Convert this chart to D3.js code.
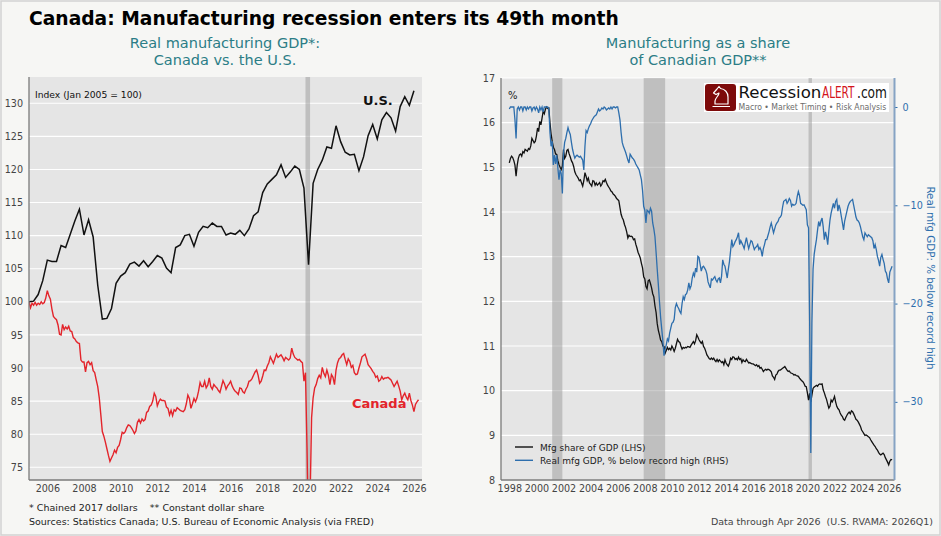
<!DOCTYPE html>
<html lang="en">
<head>
<meta charset="UTF-8">
<title>Canada: Manufacturing recession enters its 49th month</title>
<script src="https://d3js.org/d3.v7.min.js"></script>
<style>
  body { margin: 0; background: #f6f6f4; font-family: "DejaVu Sans", sans-serif; }
  svg { display: block; }
  .tick text { font-family: "DejaVu Sans", sans-serif; }
</style>
</head>
<body>
<div id="chart"></div>
<script>
// ---- Left panel: real manufacturing GDP index (Jan 2005 = 100) ----
// U.S. quarterly, 2005Q1 .. 2026Q1
const usIndex = [
  100.0, 100.1, 101.1, 103.2,  106.3, 106.1, 106.1, 108.5,  108.2, 110.2, 112.2, 114.0,
  110.1, 112.4, 109.8, 102.5,  97.4, 97.5, 99.0, 102.8,  103.9, 104.4, 105.7, 106.0,
  105.4, 106.2, 105.3, 106.1,  107.0, 106.6, 105.1, 104.4,  108.2, 108.6, 110.0, 110.2,
  108.4, 110.5, 111.4, 111.2,  111.9, 111.4, 111.4, 110.1,  110.4, 110.2, 110.8, 110.0,
  111.0, 113.0, 113.6, 116.5,  117.8, 118.5, 119.2, 120.7,  118.8, 119.6, 120.5, 120.0,
  117.2, 105.6, 117.9, 120.0,  121.4, 123.4, 123.2, 126.6,  124.2, 122.6, 122.2, 122.3,
  119.8, 121.9, 125.1, 126.8,  124.6, 127.5, 128.6, 127.8,  125.8, 129.5, 131.0, 129.7,
  131.9
];
// Canada monthly, Jan 2005 .. Apr 2026
const canadaIndex = [
  100.0, 99.1, 99.8, 99.5, 99.9, 99.5, 99.8, 99.6, 100.0, 99.7, 99.9, 100.6,
  101.7, 100.9, 100.4, 98.9, 97.8, 97.5, 97.3, 96.5, 95.1, 95.0, 96.6, 95.8,
  96.2, 95.9, 96.3, 95.6, 95.5, 94.6, 94.4, 94.0, 93.8, 93.7, 91.2, 90.9,
  90.9, 89.4, 90.8, 91.0, 90.5, 90.8, 89.6, 89.3, 88.2, 87.2, 85.5, 83.0,
  80.4, 79.7, 78.8, 77.8, 76.8, 75.9, 76.4, 76.9, 77.6, 77.2, 78.0, 78.3,
  79.2, 80.3, 80.1, 80.4, 81.0, 81.4, 81.3, 81.0, 80.6, 80.1, 80.5, 81.8,
  82.2, 81.7, 82.3, 82.0, 82.2, 83.3, 83.5, 84.2, 84.4, 85.0, 86.2, 85.7,
  84.3, 84.9, 85.3, 85.1, 85.1, 85.0, 84.1, 83.9, 82.9, 83.6, 82.8, 83.7,
  83.5, 84.0, 83.8, 83.6, 83.5, 83.4, 83.7, 84.6, 85.9, 85.4, 83.9, 84.6,
  85.4, 84.9, 85.5, 86.5, 87.8, 87.2, 87.2, 88.0, 87.0, 87.4, 88.5, 87.2,
  86.8, 87.5, 87.2, 87.0, 86.6, 86.3, 87.2, 88.1, 87.6, 86.8, 87.3, 87.6,
  88.0, 87.3, 86.8, 86.5, 86.3, 86.0, 87.0, 86.9, 86.4, 86.2, 86.8, 87.2,
  88.0, 88.1, 88.4, 88.9, 89.4, 89.7, 88.9, 87.7, 88.0, 88.8, 89.7, 89.6,
  90.3, 90.8, 91.7, 91.2, 90.7, 91.4, 92.1, 91.6, 91.8, 92.0, 91.6, 91.1,
  91.6, 91.4, 91.2, 91.5, 93.0, 92.1, 91.6, 91.4, 91.2, 91.3, 91.0, 90.8,
  88.0, 89.3, 78.0, 64.0, 70.0, 82.5, 85.5, 87.0, 87.5, 88.4, 88.9, 88.5,
  90.1, 89.2, 88.7, 89.7, 88.9, 87.5, 89.0, 88.6, 87.5, 89.7, 90.8, 91.4,
  91.6, 92.0, 92.2, 91.3, 90.5, 91.4, 91.0, 90.1, 90.4, 89.3, 89.0, 89.1,
  90.0, 90.8, 91.7, 91.9, 92.1, 91.4, 90.5, 90.2, 89.9, 89.5, 89.2, 88.6,
  88.8, 88.0, 88.2, 88.7, 88.3, 88.5, 88.5, 88.6, 88.4, 88.2, 87.7, 87.2,
  87.6, 88.0, 87.3, 86.5, 85.2, 85.8, 86.2, 85.6, 85.2, 86.2, 85.1, 84.4,
  83.4, 84.5, 84.9, 85.2
];
const leftYTicks = [75, 80, 85, 90, 95, 100, 105, 110, 115, 120, 125, 130];
const leftXTicks = [2006, 2008, 2010, 2012, 2014, 2016, 2018, 2020, 2022, 2024, 2026];
const leftRecessions = [[2020 + 1 / 12, 2020 + 4 / 12]];

// ---- Right panel: manufacturing share of Canadian GDP, monthly Jan 1998 .. Apr 2026 ----
const mfgShare = [
  15.10, 15.20, 15.25, 15.22, 15.15, 15.05, 14.80, 15.05, 15.20, 15.28, 15.30, 15.25,
  15.35, 15.32, 15.40, 15.38, 15.36, 15.42, 15.40, 15.48, 15.65, 15.60, 15.55, 15.58,
  15.70, 15.88, 15.80, 16.03, 15.95, 16.10, 16.26, 16.20, 16.30, 16.35, 16.32, 16.33,
  16.00, 15.75, 15.58, 15.45, 15.40, 15.30, 15.29, 15.15, 15.06, 15.00, 14.95, 15.03,
  15.40, 15.20, 15.25, 15.38, 15.40, 15.30, 15.23, 15.15, 15.10, 15.02, 14.90, 14.84,
  14.80, 14.76, 14.70, 14.72, 14.65, 14.58, 14.70, 14.88, 14.80, 14.70, 14.76, 14.65,
  14.62, 14.58, 14.70, 14.69, 14.60, 14.65, 14.60, 14.63, 14.66, 14.58, 14.62, 14.70,
  14.68, 14.73, 14.66, 14.60, 14.56, 14.52, 14.47, 14.45, 14.40, 14.38, 14.35, 14.30,
  14.28, 14.25, 14.10, 13.95, 13.87, 13.82, 13.72, 13.65, 13.55, 13.42, 13.48, 13.45,
  13.46, 13.44, 13.38, 13.40, 13.28, 13.20, 13.10, 13.04, 12.97, 12.85, 12.75, 12.55,
  12.50, 12.33, 12.28, 12.46, 12.48, 12.40, 12.30, 12.17, 12.10, 11.90, 11.75, 11.50,
  11.35, 11.25, 11.13, 11.10, 11.00, 10.99, 10.84, 10.90, 10.97, 10.92, 10.95, 10.91,
  11.00, 10.95, 10.88, 10.95, 11.05, 11.15, 11.10, 11.08, 11.00, 10.93, 10.97, 10.95,
  10.97, 10.96, 10.99, 10.98, 10.97, 11.02, 11.06, 11.10, 11.05, 11.12, 11.25, 11.20,
  11.14, 11.10, 11.06, 11.10, 10.99, 10.95, 10.88, 10.80, 10.76, 10.72, 10.70, 10.73,
  10.70, 10.73, 10.68, 10.65, 10.70, 10.65, 10.69, 10.66, 10.63, 10.65, 10.58, 10.69,
  10.62, 10.58, 10.55, 10.62, 10.73, 10.70, 10.76, 10.75, 10.70, 10.72, 10.69, 10.75,
  10.70, 10.72, 10.63, 10.69, 10.66, 10.65, 10.70, 10.66, 10.62, 10.63, 10.61, 10.60,
  10.60, 10.58, 10.56, 10.58, 10.54, 10.56, 10.50, 10.52, 10.48, 10.43, 10.46, 10.48,
  10.46, 10.48, 10.47, 10.45, 10.42, 10.33, 10.30, 10.25, 10.35, 10.37, 10.43, 10.46,
  10.46, 10.48, 10.50, 10.52, 10.54, 10.50, 10.46, 10.43, 10.44, 10.40, 10.39, 10.38,
  10.35, 10.36, 10.34, 10.33, 10.32, 10.28, 10.25, 10.22, 10.20, 10.16, 10.10, 10.09,
  9.95, 9.79, 9.94, 9.75, 9.90, 10.05, 10.08, 10.10, 10.12, 10.10, 10.14, 10.15,
  10.14, 10.15, 10.02, 9.95, 9.87, 9.80, 9.70, 9.61, 9.65, 9.79, 9.75, 9.80,
  9.87, 9.75, 9.65, 9.60, 9.57, 9.50, 9.45, 9.42, 9.36, 9.34, 9.40, 9.45,
  9.49, 9.52, 9.48, 9.55, 9.53, 9.48, 9.42, 9.36, 9.34, 9.30, 9.25, 9.20,
  9.12, 9.08, 9.04, 9.00, 9.01, 8.99, 8.97, 8.95, 8.90, 8.86, 8.82, 8.78,
  8.75, 8.70, 8.67, 8.62, 8.58, 8.56, 8.58, 8.60, 8.57, 8.50, 8.45, 8.40,
  8.34, 8.42, 8.46, 8.45
];
// real mfg GDP, % below record high, monthly Jan 1998 .. Apr 2026
const belowHigh = [
  -0.2, 0.0, 0.0, 0.0, 0.0, -1.3, -3.2, -0.2, 0.0, -0.3, 0.0, 0.0,
  -0.4, 0.0, 0.0, -0.3, 0.0, -0.2, 0.0, 0.0, -0.4, -0.1, 0.0, -0.3,
  0.0, -0.2, -0.6, 0.0, -0.3, 0.0, -0.5, 0.0, 0.0, 0.0, 0.0, -0.2,
  -2.6, -4.0, -3.5, -5.9, -4.9, -5.8, -4.9, -6.2, -7.4, -6.4, -6.8, -8.8,
  -4.7, -3.6, -3.2, -2.6, -2.1, -2.5, -2.8, -3.6, -4.3, -4.8, -5.2, -5.0,
  -4.9, -5.0, -5.1, -5.0, -5.2, -5.4, -6.4, -4.0, -2.4, -2.6, -2.2, -1.9,
  -1.7, -1.4, -1.2, -1.0, -0.9, -0.8, -0.5, -0.2, -0.4, -0.3, -0.1, -0.2,
  0.0, -0.1, -0.3, -0.2, -0.1, -0.2, 0.0, -0.2, 0.0, 0.0, -0.1, 0.0,
  0.0, -0.6, -1.3, -2.6, -3.6, -4.0, -4.3, -4.6, -5.0, -5.4, -5.7, -4.8,
  -5.0, -5.2, -5.3, -5.5, -5.8, -6.0, -6.2, -6.4, -6.9, -7.4, -8.5, -10.1,
  -10.5, -11.8, -10.5, -10.6, -10.8, -10.3, -10.6, -11.8, -12.4, -13.2, -14.8, -16.5,
  -18.1, -19.8, -21.4, -22.6, -23.8, -25.3, -24.6, -24.2, -23.6, -23.8, -23.0, -22.5,
  -22.0, -21.9, -21.6, -20.4, -20.0, -20.3, -20.5, -20.8, -21.0, -20.0, -19.3, -19.6,
  -19.1, -19.0, -18.6, -17.9, -18.5, -18.2, -17.4, -16.9, -17.2, -16.4, -16.8, -15.2,
  -15.3, -16.0, -16.7, -16.3, -16.2, -16.4, -16.6, -17.0, -17.8, -18.1, -18.4, -17.5,
  -17.6, -17.4, -17.25, -17.6, -17.8, -17.5, -17.4, -17.9, -17.2, -15.55, -16.0, -16.2,
  -16.8, -17.4, -16.5, -15.7, -14.6, -13.5, -14.2, -14.0, -13.7, -13.5, -13.2, -12.8,
  -14.0, -13.6, -13.85, -14.1, -14.4, -13.8, -13.3, -13.9, -14.4, -14.0, -13.6, -13.7,
  -14.1, -14.5, -14.3, -14.2, -14.0, -14.5, -14.3, -14.6, -15.2, -14.4, -14.0, -13.5,
  -13.5, -13.1, -12.7, -12.2, -11.8, -12.3, -12.8, -12.4, -12.0, -11.8, -11.65, -11.3,
  -11.2, -11.0, -10.2, -9.6, -9.5, -9.4, -9.8, -9.6, -9.3, -9.5, -10.1, -9.9,
  -10.0, -9.95, -9.8, -9.1, -8.6, -9.0, -9.8, -9.9, -10.0, -9.95, -10.2, -10.45,
  -12.0, -12.3, -22.0, -35.2, -22.0, -16.5, -15.0, -14.2, -13.5, -12.5, -11.65, -12.15,
  -11.6, -11.3, -12.2, -13.5, -12.7, -13.2, -14.0, -12.6, -11.5, -10.8, -10.3, -9.8,
  -10.3, -9.6, -9.4, -10.6, -9.95, -10.4, -11.1, -11.8, -12.5, -11.6, -11.1, -10.6,
  -10.1, -9.8, -9.6, -9.5, -9.4, -10.0, -10.6, -11.2, -11.5, -11.6, -11.8, -12.2,
  -12.7, -13.2, -13.5, -12.8, -13.0, -13.2, -13.0, -13.1, -13.2, -13.3, -13.6, -14.4,
  -14.0, -14.5, -15.2, -15.6, -16.2, -15.3, -15.0, -15.5, -15.9, -16.7, -16.9, -17.5,
  -17.9, -16.8, -16.5, -16.2
];
const rightYTicks = [8, 9, 10, 11, 12, 13, 14, 15, 16, 17];
const rhsTicks = [0, -10, -20, -30];
const rightXTicks = [1998, 2000, 2002, 2004, 2006, 2008, 2010, 2012, 2014, 2016, 2018, 2020, 2022, 2024, 2026];
const rightRecessions = [
  [2001 + 2 / 12, 2001 + 11 / 12],
  [2007 + 11 / 12, 2009 + 6 / 12],
  [2020 + 1 / 12, 2020 + 4 / 12]
];

// ---- colours ----
const RED = "#e3242b";
const BLUE = "#2d6ead";
const TEAL = "#2b7d86";
const PANEL = "#e5e5e5";

const width = 941, height = 536;
const svg = d3.select("#chart").append("svg")
  .attr("width", width)
  .attr("height", height);

// figure background + thin border
svg.append("rect")
  .attr("x", 1).attr("y", 1)
  .attr("width", width - 2).attr("height", height - 2)
  .attr("fill", "#f6f6f4")
  .attr("stroke", "#d2d2d2")
  .attr("stroke-width", 1.5);

svg.append("text")
  .attr("x", 29).attr("y", 25)
  .attr("font-size", 18.7).attr("font-weight", "bold").attr("fill", "#000")
  .text("Canada: Manufacturing recession enters its 49th month");

function subtitle(cx, lines) {
  lines.forEach((t, i) => {
    svg.append("text")
      .attr("x", cx).attr("y", 48 + i * 17)
      .attr("text-anchor", "middle")
      .attr("font-size", 14.5).attr("fill", TEAL)
      .text(t);
  });
}
subtitle(225, ["Real manufacturing GDP*:", "Canada vs. the U.S."]);
subtitle(698, ["Manufacturing as a share", "of Canadian GDP**"]);

function styleAxis(g, color) {
  g.select(".domain").remove();
  g.selectAll(".tick line").attr("stroke", color);
  g.selectAll(".tick text").attr("fill", color).attr("font-size", 9.6);
}

// ================= LEFT PANEL =================
const L = { left: 29, right: 422, top: 77, bottom: 480 };
const xL = d3.scaleLinear().domain([2005, 2026.44]).range([L.left, L.right]);
const yL = d3.scaleLinear().domain([73.08, 133.97]).range([L.bottom, L.top]);

const gL = svg.append("g");
gL.append("rect")
  .attr("x", L.left).attr("y", L.top)
  .attr("width", L.right - L.left).attr("height", L.bottom - L.top)
  .attr("fill", PANEL);

gL.selectAll(".gridL").data(leftYTicks).join("line")
  .attr("x1", L.left).attr("x2", L.right)
  .attr("y1", d => yL(d)).attr("y2", d => yL(d))
  .attr("stroke", "#fff").attr("stroke-width", 1.1);

gL.selectAll(".recL").data(leftRecessions).join("rect")
  .attr("x", d => xL(d[0])).attr("width", d => xL(d[1]) - xL(d[0]))
  .attr("y", L.top).attr("height", L.bottom - L.top)
  .attr("fill", "#9a9a9a").attr("opacity", 0.5);

svg.append("clipPath").attr("id", "clipL")
  .append("rect")
  .attr("x", L.left).attr("y", L.top)
  .attr("width", L.right - L.left).attr("height", L.bottom - L.top);

const usLine = d3.line()
  .x((d, i) => xL(2005 + i * 0.25))
  .y(d => yL(d));
const caLine = d3.line()
  .x((d, i) => xL(2005 + i / 12))
  .y(d => yL(d));

gL.append("path").datum(canadaIndex)
  .attr("clip-path", "url(#clipL)")
  .attr("fill", "none").attr("stroke", RED).attr("stroke-width", 1.4)
  .attr("d", caLine);
gL.append("path").datum(usIndex)
  .attr("clip-path", "url(#clipL)")
  .attr("fill", "none").attr("stroke", "#111").attr("stroke-width", 1.5)
  .attr("d", usLine);

gL.append("g")
  .attr("transform", `translate(${L.left},0)`)
  .call(d3.axisLeft(yL).tickValues(leftYTicks).tickSize(0).tickPadding(6))
  .call(g => styleAxis(g, "#444"));
gL.append("g")
  .attr("transform", `translate(0,${L.bottom})`)
  .call(d3.axisBottom(xL).tickValues(leftXTicks).tickFormat(d3.format("d")).tickSize(0).tickPadding(5))
  .call(g => styleAxis(g, "#444"));

gL.append("line")
  .attr("x1", L.left).attr("x2", L.left).attr("y1", L.top).attr("y2", L.bottom)
  .attr("stroke", "#7a7a7a").attr("stroke-width", 1.3);
gL.append("line")
  .attr("x1", L.left).attr("x2", L.right).attr("y1", L.bottom).attr("y2", L.bottom)
  .attr("stroke", "#7a7a7a").attr("stroke-width", 1.3);

gL.append("text")
  .attr("x", 35).attr("y", 98)
  .attr("font-size", 9.2).attr("fill", "#111")
  .text("Index (Jan 2005 = 100)");
gL.append("text")
  .attr("x", 363).attr("y", 105)
  .attr("font-size", 13).attr("font-weight", "bold").attr("fill", "#111")
  .text("U.S.");
gL.append("text")
  .attr("x", 352).attr("y", 408)
  .attr("font-size", 13).attr("font-weight", "bold").attr("fill", RED)
  .text("Canada");

// ================= RIGHT PANEL =================
const R = { left: 501, right: 894.5, top: 78, bottom: 480 };
const xR = d3.scaleLinear().domain([1997.387, 2026.428]).range([R.left, R.right]);
const yR = d3.scaleLinear().domain([8, 17]).range([R.bottom, R.top]);
const yR2 = d3.scaleLinear().domain([-37.95, 2.95]).range([R.bottom, R.top]);

const gR = svg.append("g");
gR.append("rect")
  .attr("x", R.left).attr("y", R.top)
  .attr("width", R.right - R.left).attr("height", R.bottom - R.top)
  .attr("fill", PANEL);

gR.selectAll(".gridR").data(rightYTicks).join("line")
  .attr("x1", R.left).attr("x2", R.right)
  .attr("y1", d => yR(d)).attr("y2", d => yR(d))
  .attr("stroke", "#fff").attr("stroke-width", 1.1);

gR.selectAll(".recR").data(rightRecessions).join("rect")
  .attr("x", d => xR(d[0])).attr("width", d => xR(d[1]) - xR(d[0]))
  .attr("y", R.top).attr("height", R.bottom - R.top)
  .attr("fill", "#9a9a9a").attr("opacity", 0.5);

const shareLine = d3.line()
  .x((d, i) => xR(1998 + i / 12))
  .y(d => yR(d));
const belowLine = d3.line()
  .x((d, i) => xR(1998 + i / 12))
  .y(d => yR2(d));

gR.append("path").datum(mfgShare)
  .attr("fill", "none").attr("stroke", "#111").attr("stroke-width", 1.3)
  .attr("d", shareLine);
gR.append("path").datum(belowHigh)
  .attr("fill", "none").attr("stroke", BLUE).attr("stroke-width", 1.3)
  .attr("d", belowLine);

gR.append("g")
  .attr("transform", `translate(${R.left},0)`)
  .call(d3.axisLeft(yR).tickValues(rightYTicks).tickSize(0).tickPadding(6))
  .call(g => styleAxis(g, "#444"));
gR.append("g")
  .attr("transform", `translate(${R.right},0)`)
  .call(d3.axisRight(yR2).tickValues(rhsTicks).tickSize(3).tickPadding(5)
    .tickFormat(d => d < 0 ? "\u2212" + Math.abs(d) : d))
  .call(g => styleAxis(g, BLUE));
gR.append("g")
  .attr("transform", `translate(0,${R.bottom})`)
  .call(d3.axisBottom(xR).tickValues(rightXTicks).tickFormat(d3.format("d")).tickSize(0).tickPadding(5))
  .call(g => styleAxis(g, "#444"));

gR.append("line")
  .attr("x1", R.left).attr("x2", R.left).attr("y1", R.top).attr("y2", R.bottom)
  .attr("stroke", "#7a7a7a").attr("stroke-width", 1.3);
gR.append("line")
  .attr("x1", R.left).attr("x2", R.right).attr("y1", R.bottom).attr("y2", R.bottom)
  .attr("stroke", "#7a7a7a").attr("stroke-width", 1.3);
gR.append("line")
  .attr("x1", R.right).attr("x2", R.right).attr("y1", R.top).attr("y2", R.bottom)
  .attr("stroke", "#86a3c4").attr("stroke-width", 2);

gR.append("text")
  .attr("x", 508).attr("y", 99)
  .attr("font-size", 10).attr("fill", "#222")
  .text("%");

gR.append("text")
  .attr("transform", "translate(927,278) rotate(90)")
  .attr("text-anchor", "middle")
  .attr("font-size", 10.3).attr("fill", BLUE)
  .text("Real mfg GDP: % below record high");

// legend
const legendItems = [
  { label: "Mfg share of GDP (LHS)", color: "#111" },
  { label: "Real mfg GDP, % below record high (RHS)", color: BLUE }
];
const lg = gR.append("g").attr("transform", "translate(515,447)");
legendItems.forEach((d, i) => {
  lg.append("line")
    .attr("x1", 0).attr("x2", 18).attr("y1", i * 13.3).attr("y2", i * 13.3)
    .attr("stroke", d.color).attr("stroke-width", 1.4);
  lg.append("text")
    .attr("x", 25).attr("y", i * 13.3 + 3.5)
    .attr("font-size", 9).attr("fill", "#222")
    .text(d.label);
});

// logo
const logo = svg.append("g").attr("transform", "translate(704,83)");
logo.append("rect").attr("width", 185).attr("height", 29).attr("fill", "#fff");
logo.append("rect").attr("x", 1).attr("y", 1).attr("width", 31).attr("height", 27)
  .attr("rx", 3).attr("fill", "#7d0a0a");
logo.append("path")
  .attr("d", "M11,21 L11,18 C11,15 15,13 15,10 L12,11.5 L9.5,10 L13,6 L15,3.5 L16.5,5.5 C21,6 24,9.5 24,14 L24,21 Z M8.5,23.5 L26,23.5")
  .attr("fill", "none").attr("stroke", "#fff").attr("stroke-width", 1.2)
  .attr("stroke-linejoin", "round");

// squeeze each logo word horizontally to its measured width in the reference
const narrow = "'Liberation Sans Narrow', 'DejaVu Sans Condensed', sans-serif";
function squeezed(text, x, y, w, size, color) {
  const t = logo.append("text")
    .attr("font-family", narrow).attr("font-size", size)
    .attr("fill", color)
    .text(text);
  const natural = t.node().getComputedTextLength();
  t.attr("transform", `translate(${x},${y}) scale(${w / natural},1)`);
}
squeezed("Recession", 34.5, 15, 83, 16.5, "#111");
squeezed("ALERT", 118, 15, 32.5, 16.5, "#d3141c");
squeezed(".com", 153, 15, 30, 16.5, "#111");
squeezed("Macro \u2022 Market Timing \u2022 Risk Analysis", 34.5, 27, 148, 9.5, "#6b6b6b");

// footer
svg.append("text")
  .attr("x", 29).attr("y", 511)
  .attr("font-size", 9.5).attr("fill", "#222")
  .attr("xml:space", "preserve")
  .text("* Chained 2017 dollars    ** Constant dollar share");
svg.append("text")
  .attr("x", 29).attr("y", 525)
  .attr("font-size", 9.5).attr("fill", "#222")
  .text("Sources: Statistics Canada; U.S. Bureau of Economic Analysis (via FRED)");
svg.append("text")
  .attr("x", 933).attr("y", 525)
  .attr("text-anchor", "end")
  .attr("font-size", 9.5).attr("fill", "#444")
  .attr("xml:space", "preserve")
  .text("Data through Apr 2026  (U.S. RVAMA: 2026Q1)");
</script>
</body>
</html>
